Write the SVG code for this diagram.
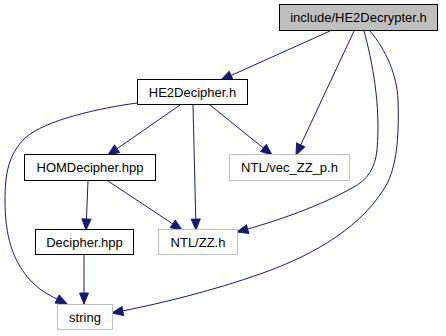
<svg xmlns="http://www.w3.org/2000/svg" width="446" height="336" viewBox="0 0 446 336">
  <style>
    .bg { fill: #ffffff; }
    .node rect { fill: #ffffff; stroke: #000000; stroke-width: 1; }
    .node.ext rect { stroke: #bfbfbf; }
    .node.root rect { fill: #bfbfbf; stroke: #000000; }
    .node text { font-family: "Liberation Sans", Arial, Helvetica, sans-serif; font-size: 13px; fill: #000000; text-anchor: middle; }
    .edges path { fill: none; stroke: #191970; stroke-width: 1; marker-end: url(#arrow); }
  </style>
  <defs>
    <marker id="arrow" markerUnits="userSpaceOnUse" markerWidth="12" markerHeight="10" refX="11" refY="4.5" orient="auto" overflow="visible">
      <path d="M0,0 L11,4.5 L0,9 z" fill="#191970" stroke="#191970" stroke-width="1"/>
    </marker>
  </defs>
  <rect class="bg" x="0" y="0" width="446" height="336"/>

  <g class="edges">
    <path d="M330,31 L221,80"/>
    <path d="M354,31 L296,155"/>
    <path d="M364,31 C372,60 381,105 377,150 C375,168 368,180 352,188 C322,205 278,221 237,232"/>
    <path d="M370,31 C386,50 397,75 398,100 C399,130 398,160 388,182 C365,225 315,255 260,274 C215,290 160,304 112,313"/>
    <path d="M137,103 C100,108 45,120 25,138 C8,155 5,175 5,200 C5,235 12,262 33,283 C43,293 55,298 67,304"/>
    <path d="M180,105 L108,155"/>
    <path d="M193,105 L196,230"/>
    <path d="M210,105 L272,155"/>
    <path d="M88,181 L86,230"/>
    <path d="M108,181 L182,230"/>
    <path d="M84,255 L84,304"/>
  </g>

  <g id="node-he2decrypter" class="node root">
    <rect x="279.5" y="4.5" width="158" height="26"/>
    <text x="358.5" y="22">include/HE2Decrypter.h</text>
  </g>
  <g id="node-he2decipher" class="node">
    <rect x="137.5" y="79.5" width="110" height="25"/>
    <text x="192.5" y="96.5">HE2Decipher.h</text>
  </g>
  <g id="node-homdecipher" class="node">
    <rect x="24.5" y="154.5" width="131" height="26"/>
    <text x="90" y="172">HOMDecipher.hpp</text>
  </g>
  <g id="node-vec-zz-p" class="node ext">
    <rect x="229.5" y="154.5" width="120" height="26"/>
    <text x="289.5" y="172">NTL/vec_ZZ_p.h</text>
  </g>
  <g id="node-decipher" class="node">
    <rect x="35.5" y="229.5" width="98" height="25"/>
    <text x="84.5" y="246.5">Decipher.hpp</text>
  </g>
  <g id="node-zz" class="node ext">
    <rect x="158.5" y="229.5" width="79" height="25"/>
    <text x="198" y="246.5">NTL/ZZ.h</text>
  </g>
  <g id="node-string" class="node ext">
    <rect x="57.5" y="304.5" width="55" height="25"/>
    <text x="85" y="321.5">string</text>
  </g>
</svg>
